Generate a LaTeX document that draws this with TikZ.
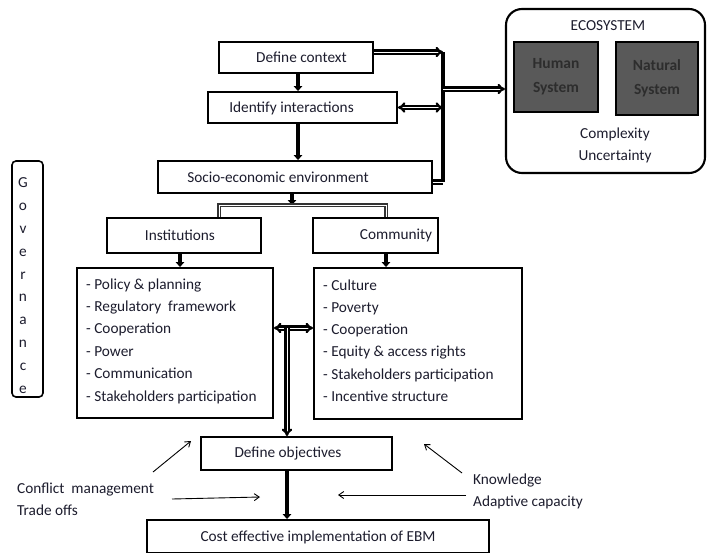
\documentclass[tikz,border=0pt]{standalone}
\usepackage{fontspec}
\setmainfont{Carlito}
\usetikzlibrary{arrows.meta,calc}
\definecolor{txtc}{RGB}{28,28,45}
\definecolor{hsys}{RGB}{89,89,89}
\definecolor{htxt}{RGB}{45,45,45}
\begin{document}
\begin{tikzpicture}[x=1pt,y=-1pt,
  every node/.style={font=\fontsize{15.3}{22}\selectfont},
  box/.style={draw, line width=1.9pt, rectangle, inner sep=0pt},
  txt/.style={text=txtc, inner sep=0pt, anchor=center},
  thickarr/.style={line width=3.2pt, -{Triangle[length=5pt,width=8.5pt]}},
  dbl/.style={double=white, double distance=0.9pt, line width=2.2pt},
  thinarr/.style={line width=0.9pt, -{Straight Barb[length=5pt,width=7pt]}},
  sysbox/.style={draw, line width=1.6pt, fill=hsys, text=htxt, inner sep=0pt,
    align=center, font=\fontsize{15.5}{24}\selectfont\bfseries}
]
\useasboundingbox (0,0) rectangle (707,552);

% boxes
\node[box, minimum width=154pt, minimum height=31pt] (ctx) at (296,57.5) {};
\node[box, minimum width=189pt, minimum height=31pt] (idn) at (302.5,107.5) {};
\node[box, minimum width=274pt, minimum height=32pt] (soc) at (295,177) {};
\node[box, minimum width=154pt, minimum height=35pt] (ins) at (184,235.5) {};
\node[box, minimum width=125pt, minimum height=35pt] (com) at (375.5,235.5) {};
\node[box, minimum width=196pt, minimum height=150pt] (lstL) at (175,343) {};
\node[box, minimum width=208pt, minimum height=151pt] (lstR) at (418,343.5) {};
\node[box, minimum width=191pt, minimum height=33pt] (obj) at (296.5,453.5) {};
\node[box, minimum width=342pt, minimum height=33pt] (ebm) at (318,536.5) {};
\node[draw, line width=1.6pt, rounded corners=4pt, minimum width=31pt, minimum height=236pt, inner sep=0pt] (gov) at (27.5,279) {};
\node[draw, line width=2.1pt, rounded corners=16pt, minimum width=199pt, minimum height=164pt, inner sep=0pt] (eco) at (605.5,91) {};
\node[sysbox, minimum width=84pt, minimum height=70pt] (hum) at (556,77) {Human\\System};
\node[sysbox, minimum width=82pt, minimum height=73pt] (nat) at (657,78.5) {Natural\\System};

% texts
\node[txt] (ctxT) at (301.5,57.5) {Define context};
\node[txt] (idnT) at (291.5,108) {Identify interactions};
\node[txt] (socT) at (278,177) {Socio-economic environment};
\node[txt] (insT) at (180,235) {Institutions};
\node[txt] (comT) at (396,235) {Community};
\node[txt, anchor=west, align=left, font=\fontsize{15.3}{22.4}\selectfont] (lstLT) at (86,341) {- Policy \& planning\\- Regulatory~ framework\\- Cooperation\\- Power\\- Communication\\- Stakeholders participation};
\node[txt, anchor=west, align=left, font=\fontsize{15.3}{22.2}\selectfont] (lstRT) at (323,340.5) {- Culture\\- Poverty\\- Cooperation\\- Equity \& access rights\\- Stakeholders participation\\- Incentive structure};
\node[txt] (objT) at (288,453.5) {Define objectives};
\node[txt] (ebmT) at (318,537) {Cost effective implementation of EBM};
\node[txt, anchor=west, align=left] (cmT) at (17,499.5) {Conflict~ management\\Trade offs};
\node[txt, anchor=west, align=left] (knT) at (473,491.5) {Knowledge\\Adaptive capacity};
\node[txt, align=center, font=\fontsize{15.3}{22.8}\selectfont] (govT) at (23,285.5) {G\\o\\v\\e\\r\\n\\a\\n\\c\\e};
\node[txt] (ecoT) at (608,26) {ECOSYSTEM};
\node[txt, align=center] (cuT) at (615,145) {Complexity\\Uncertainty};

% main vertical flow
\draw[thickarr] ([xshift=2pt]ctx.south) -- ([xshift=2pt]ctx.south |- idn.north);
\draw[thickarr] ([xshift=-4.5pt]idn.south) -- ([xshift=-4.5pt]idn.south |- soc.north);

% right bus to ecosystem
\coordinate (b1) at (443,52);
\coordinate (b2) at (443,182);
\coordinate (b3) at (443,107.5);
\coordinate (b4) at (443,89);
\draw[line width=3.2pt] (b1) -- (b2);
\draw[dbl, -Implies] ([yshift=5.5pt]ctx.east) -- (b1);
\draw[dbl, Implies-Implies] (idn.east) -- (b3);
\draw[dbl] ([yshift=-5pt]soc.east) -- (b2);
\draw[dbl, -Implies] (b4) -- (b4 -| eco.west);

% branch to institutions / community
\coordinate (br) at (292,205);
\coordinate (brL) at (219,205);
\coordinate (brR) at (386,205);
\draw[thickarr] ([xshift=-3pt]soc.south) -- (br);
\draw[double=white, double distance=1pt, line width=1.1pt, draw=black!80] (brL |- ins.north) -- (brL) -- (brR) -- (brR |- com.north);
\draw[thickarr] ([xshift=-4pt]ins.south) -- ([xshift=-4pt]ins.south |- lstL.north);
\draw[thickarr] ([xshift=10.5pt]com.south) -- ([xshift=10.5pt]com.south |- lstR.north);

% lists to objectives
\coordinate (mid) at (287,328);
\draw[dbl, Implies-Implies] (mid -| lstL.east) -- (mid -| lstR.west);
\draw[dbl, -Implies] (mid) -- (mid |- obj.north);
\draw[thickarr] (mid |- obj.south) -- (mid |- ebm.north);

% thin influence arrows
\coordinate (c1s) at (153,472);
\coordinate (c1e) at (191,441);
\coordinate (c2s) at (172,499);
\coordinate (c2e) at (260,497);
\coordinate (c3s) at (462,473);
\coordinate (c3e) at (424,444);
\coordinate (c4s) at (466,495);
\coordinate (c4e) at (338,495);
\draw[thinarr] (c1s) -- (c1e);
\draw[thinarr] (c2s) -- (c2e);
\draw[thinarr] (c3s) -- (c3e);
\draw[thinarr] (c4s) -- (c4e);
\end{tikzpicture}
\end{document}
